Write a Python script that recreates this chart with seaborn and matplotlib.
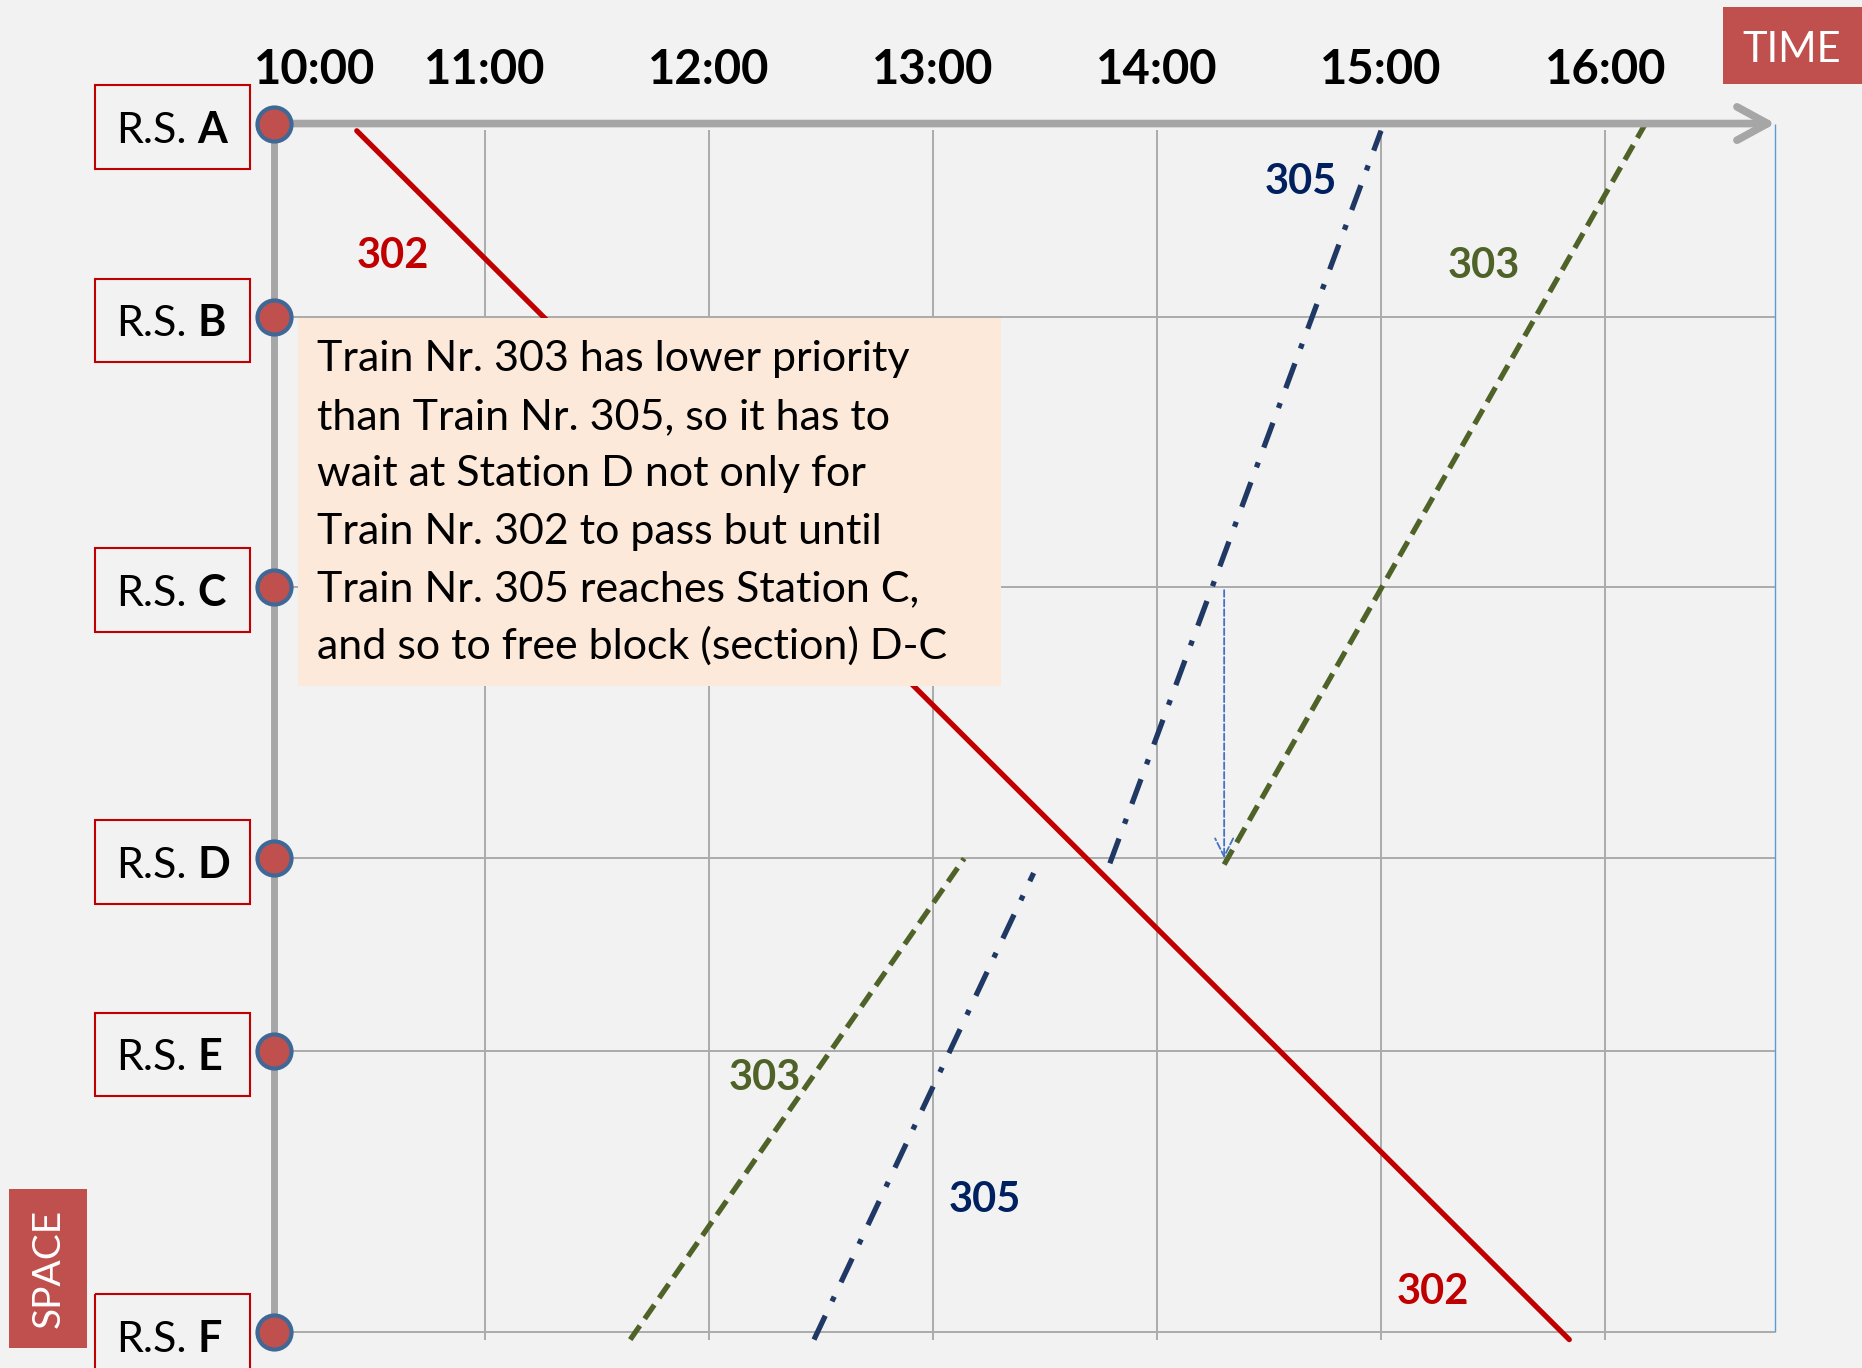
import matplotlib
matplotlib.use("Agg")
import matplotlib.pyplot as plt
from matplotlib.patches import Rectangle
import pandas as pd
import seaborn as sns

# stations along the line (distance from A, km)
stations = ["A", "B", "C", "D", "E", "F"]
station_km = [0, 16, 38.3, 60.8, 76.7, 100]

# time grid (hours)
grid_hours = [11, 12, 13, 14, 15, 16]
hour_labels = ["10:00", "11:00", "12:00", "13:00", "14:00", "15:00", "16:00"]
label_hours = [10, 11, 12, 13, 14, 15, 16]

# train paths (time in hours, position in km), one leg per list
t302 = [10.43, 15.84]
km302 = [0.6, 100.6]
t303_a = [11.65, 13.14]
km303_a = [100.6, 60.8]
t303_b = [14.30, 16.18]
km303_b = [61.3, 0]
t305_a = [12.47, 13.45]
km305_a = [100.6, 62.0]
t305_b = [13.79, 15.0]
km305_b = [61.2, 0.6]

note_lines = [
    "Train Nr. 303 has lower priority",
    "than Train Nr. 305, so it has to",
    "wait at Station D not only for",
    "Train Nr. 302 to pass but until",
    "Train Nr. 305 reaches Station C,",
    "and so to free block (section) D-C",
]

rows = []
for train, leg, ts, ks in [("302", "302", t302, km302),
                           ("303", "303a", t303_a, km303_a),
                           ("303", "303b", t303_b, km303_b),
                           ("305", "305a", t305_a, km305_a),
                           ("305", "305b", t305_b, km305_b)]:
    for t, k in zip(ts, ks):
        rows.append({"train": train, "leg": leg, "time": t, "km": k})
df = pd.DataFrame(rows)

sns.set_style("white")
plt.rcParams["font.family"] = ["Lato", "DejaVu Sans"]
plt.rcParams["text.color"] = "black"

BG = "#F2F2F2"
GRID = "#ABABAB"
line_colors = {"302": "#C00000", "303": "#4F6228", "305": "#1F3864"}
text_colors = {"302": "#C00000", "303": "#4F6228", "305": "#002060"}

fig = plt.figure(figsize=(18.62, 13.68), dpi=100, facecolor=BG)
ax = fig.add_axes([0, 0, 1, 1])
ax.set_facecolor(BG)

axis_t = 10.06      # where the space axis sits
end_t = 16.76       # end of the time axis

# grid
ax.vlines(grid_hours, 0.5, 100.6, color=GRID, lw=1.4, zorder=1)
ax.hlines(station_km[1:], axis_t, end_t, color=GRID, lw=1.4, zorder=1)
ax.vlines(end_t, 0, 100, color="#5B9BD5", lw=1.0, zorder=1)

# trains
sns.lineplot(data=df, x="time", y="km", hue="train", style="train", units="leg",
             estimator=None, sort=False, palette=line_colors,
             dashes={"302": "", "303": (3.2, 1.6), "305": (5, 3, 1, 3)},
             lw=3.8, legend=False, ax=ax, zorder=2)

# explanation box
ax.add_patch(Rectangle((10.168, 16.1), 3.137, 30.46, fc="#FDE9D9", ec="none", zorder=3))
for i, line in enumerate(note_lines):
    ax.text(10.253, 20.5 + 4.754 * i, line, fontsize=31, ha="left", va="baseline", zorder=4)

# waiting arrow (305 at C -> 303 departs D)
ax.annotate("", xy=(t303_b[0], station_km[3]), xytext=(t303_b[0], station_km[2] + 0.3),
            arrowprops=dict(arrowstyle="->,head_length=1.3,head_width=0.65", color="#4472C4",
                            lw=1.3, ls="--", shrinkA=0, shrinkB=0, mutation_scale=10),
            zorder=4)

# axes
ax.annotate("", xy=(end_t, 0), xytext=(axis_t, 0),
            arrowprops=dict(arrowstyle="->,head_length=1.1,head_width=0.6", color="#A6A6A6",
                            lw=5.5, shrinkA=0, shrinkB=0, mutation_scale=20),
            zorder=5)
ax.vlines(axis_t, 0, 100, color="#A6A6A6", lw=5, zorder=5)

# station markers
sns.scatterplot(x=[axis_t] * len(stations), y=station_km, s=600, color="#C0504D",
                edgecolor="#3F6896", linewidth=3, ax=ax, zorder=6)

# station labels
ytr = ax.get_yaxis_transform()
for name, km in zip(stations, station_km):
    ax.add_patch(Rectangle((0.051, km - 3.15), 0.083, 6.9, transform=ytr, fill=False,
                           ec="#C00000", lw=1.5, zorder=5))
    ax.text(0.1, km + 1.6, "R.S.", transform=ytr, fontsize=31, ha="right", va="baseline")
    ax.text(0.106, km + 1.6, name, transform=ytr, fontsize=31, fontweight="bold",
            ha="left", va="baseline")

# time labels
for h, lab in zip(label_hours, hour_labels):
    x = max(h, axis_t + 0.18)
    ax.text(x, -3.25, lab, fontsize=34, fontweight="bold", ha="center", va="baseline")

# train numbers
for t, k, num in [(10.59, 10.7, "302"), (15.23, 96.4, "302"),
                  (15.46, 11.5, "303"), (12.25, 78.7, "303"),
                  (14.64, 4.6, "305"), (13.23, 88.8, "305")]:
    ax.text(t, k + 1.25, num, fontsize=30, fontweight="bold", color=text_colors[num],
            ha="center", va="baseline")

# TIME / SPACE tags
ax.add_patch(Rectangle((0.9254, 0.9384), 0.08, 0.0564, transform=ax.transAxes,
                       fc="#C0504D", ec="none", zorder=5))
ax.text(0.9624, 0.9549, "TIME", transform=ax.transAxes, fontsize=30, color="white",
        ha="center", va="baseline", zorder=6)
ax.add_patch(Rectangle((0.0051, 0.0148), 0.0415, 0.1163, transform=ax.transAxes,
                       fc="#C0504D", ec="none", zorder=5))
ax.text(0.0262, 0.0729, "SPACE", transform=ax.transAxes, fontsize=28, color="white",
        rotation=90, ha="center", va="center", zorder=6)

ax.set_xlim(8.838, 17.146)
ax.set_ylim(102.95, -10.22)
ax.axis("off")

fig.savefig("out.png", dpi=100, facecolor=BG)
